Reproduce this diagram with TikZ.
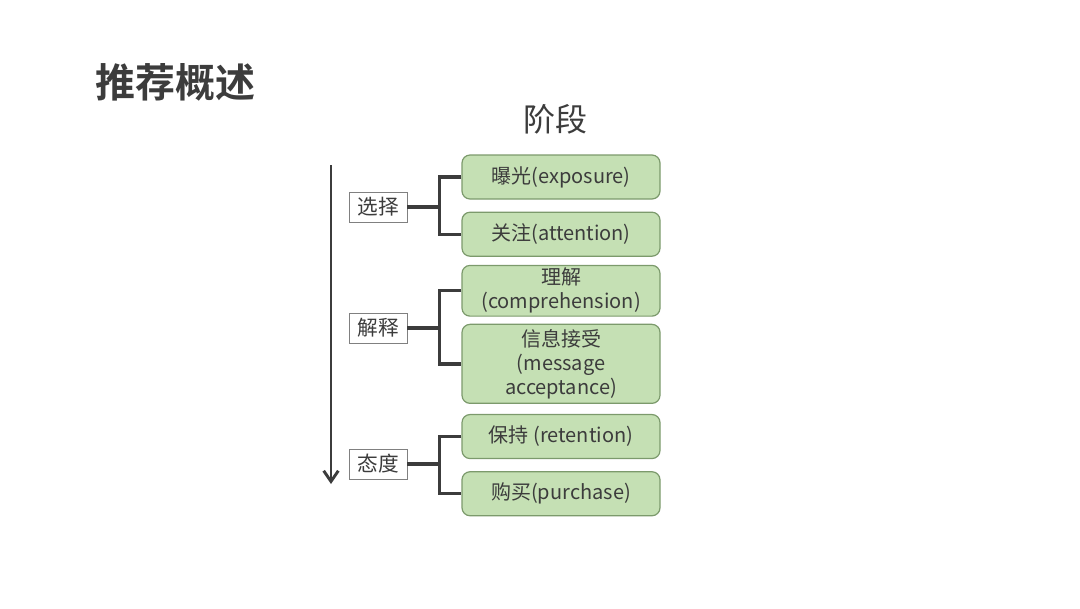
\documentclass[tikz,border=0pt]{standalone}
\usepackage{fontspec}
\newfontfamily\cjk{Noto Sans CJK SC}[BoldFont={Noto Sans CJK SC Bold}]
\usetikzlibrary{positioning,arrows.meta}
\definecolor{boxgreen}{HTML}{C5E0B4}
\definecolor{boxedge}{HTML}{7C9A6C}
\definecolor{ink}{HTML}{3C3C3C}

\begin{document}
\begin{tikzpicture}[x=0.75pt,y=-0.75pt,
	stage/.style={draw=boxedge, fill=boxgreen, line width=0.9pt, rounded corners=6pt,
		minimum width=148.5pt, minimum height=33pt, inner sep=2pt, align=center,
		text=ink, font=\cjk\fontsize{15}{18}\selectfont},
	phase/.style={draw=gray, fill=white, line width=0.7pt, minimum width=43.5pt,
		minimum height=22.5pt, inner sep=2pt, text=ink, font=\cjk\fontsize{15.5}{18}\selectfont},
	link/.style={draw=ink, line width=2.5pt},
	flow/.style={draw=ink, line width=2.2pt, -{Straight Barb[length=8pt,width=11pt,line width=2.2pt]}}]
	\useasboundingbox (0,0) rectangle (1080,608);
	
	\node[text=ink, font=\cjk\bfseries\fontsize{30}{34}\selectfont] (title) at (175,82) {推荐概述};
	\node[text=ink, font=\cjk\fontsize{24}{28}\selectfont] (head) at (555,119) {阶段};
	
	\coordinate (top) at (331,165);
	\coordinate (bot) at (331,484);
	\draw[flow] (top) -- (bot);
	
	\node[stage] (e1) at (561,177) {曝光(exposure)};
	\node[stage, below=9pt of e1] (e2) {关注(attention)};
	\node[stage, below=6pt of e2, minimum height=37pt] (e3) {理解\\(comprehension)};
	\node[stage, below=5.25pt of e3, minimum height=59.25pt] (e4) {信息接受\\(message\\acceptance)};
	\node[stage, below=7.5pt of e4] (e5) {保持 (retention)};
	\node[stage, below=9pt of e5] (e6) {购买(purchase)};
	
	\node[phase] (s1) at (378,207) {选择};
	\node[phase] (s2) at (378,328) {解释};
	\node[phase] (s3) at (378,464) {态度};
	
	\draw[link] (s1.east) -- ++(32,0) coordinate (k1);
	\draw[link] (e1.west) -| (k1) |- (e2.west);
	\draw[link] (s2.east) -- ++(32,0) coordinate (k2);
	\draw[link] (e3.west) -| (k2) |- (e4.west);
	\draw[link] (s3.east) -- ++(32,0) coordinate (k3);
	\draw[link] (e5.west) -| (k3) |- (e6.west);
\end{tikzpicture}
\end{document}
